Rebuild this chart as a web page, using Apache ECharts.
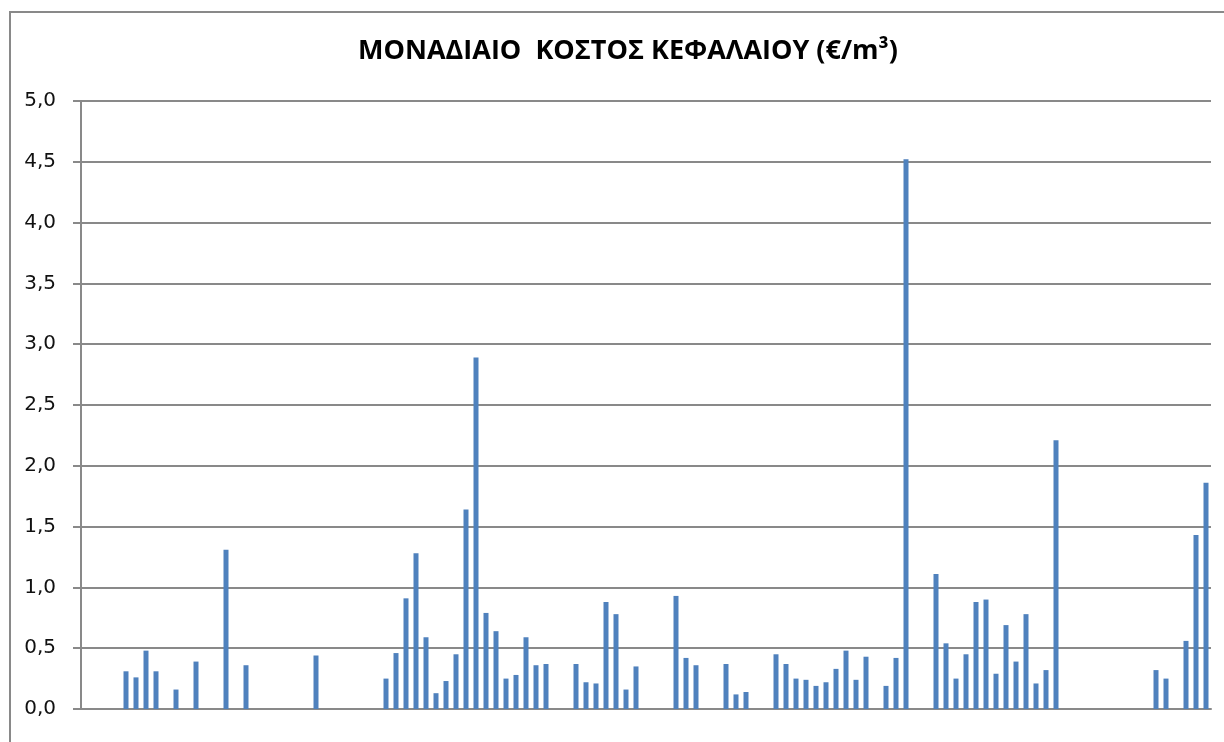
<!DOCTYPE html>
<html>
<head>
<meta charset="utf-8">
<script src="https://cdn.jsdelivr.net/npm/echarts@6/dist/echarts.min.js"></script>
<style>
html,body{margin:0;padding:0;background:#fff;}
#chart{width:1224px;height:742px;}
</style>
</head>
<body>
<div id="chart"></div>
<script>
const titleText = 'ΜΟΝΑΔΙΑΙΟ  ΚΟΣΤΟΣ ΚΕΦΑΛΑΙΟΥ (€/m³)';
const categoryCount = 113;
const categories = Array.from({length: categoryCount}, (_, i) => String(i + 1));
const values = [
  null, null, null, null, 0.31, 0.26, 0.48, 0.31, null, 0.16,
  null, 0.39, null, null, 1.31, null, 0.36, null, null, null,
  null, null, null, 0.44, null, null, null, null, null, null,
  0.25, 0.46, 0.91, 1.28, 0.59, 0.13, 0.23, 0.45, 1.64, 2.89,
  0.79, 0.64, 0.25, 0.28, 0.59, 0.36, 0.37, null, null, 0.37,
  0.22, 0.21, 0.88, 0.78, 0.16, 0.35, null, null, null, 0.93,
  0.42, 0.36, null, null, 0.37, 0.12, 0.14, null, null, 0.45,
  0.37, 0.25, 0.24, 0.19, 0.22, 0.33, 0.48, 0.24, 0.43, null,
  0.19, 0.42, 4.52, null, null, 1.11, 0.54, 0.25, 0.45, 0.88,
  0.90, 0.29, 0.69, 0.39, 0.78, 0.21, 0.32, 2.21, null, null,
  null, null, null, null, null, null, null, 0.32, 0.25, null,
  0.56, 1.43, 1.86
];
const yTicks = { min: 0, max: 5, interval: 0.5 };

const chart = echarts.init(document.getElementById('chart'), null, {renderer: 'canvas'});
const gray = '#898989';
chart.setOption({
  backgroundColor: '#ffffff',
  animation: false,
  title: {
    text: titleText,
    left: 623,
    top: 33,
    textAlign: 'center',
    textStyle: {
      fontFamily: 'Open Sans',
      fontWeight: 'bold',
      fontSize: 27,
      color: '#000000'
    }
  },
  graphic: [{
    type: 'rect',
    shape: {x: 10, y: 12, width: 1400, height: 900},
    style: {fill: 'none', stroke: gray, lineWidth: 2},
    silent: true,
    z: 100
  }],
  grid: {left: 81, right: 13, top: 101, bottom: 33, containLabel: false},
  xAxis: {
    type: 'category',
    data: categories,
    axisLine: {show: true, lineStyle: {color: gray, width: 2}},
    axisTick: {show: false},
    axisLabel: {show: false},
    splitLine: {show: false}
  },
  yAxis: {
    type: 'value',
    min: yTicks.min,
    max: yTicks.max,
    interval: yTicks.interval,
    axisLine: {show: true, lineStyle: {color: gray, width: 2}},
    axisTick: {show: true, length: 8, lineStyle: {color: gray, width: 2}},
    axisLabel: {
      margin: 25,
      fontFamily: 'DejaVu Sans',
      fontSize: 20,
      color: '#111111',
      padding: [3, 0, 0, 0],
      formatter: v => v.toFixed(1).replace('.', ',')
    },
    splitLine: {show: true, lineStyle: {color: gray, width: 2}}
  },
  series: [{
    type: 'bar',
    data: values,
    barWidth: 5,
    itemStyle: {color: '#4F81BD'}
  }]
});
</script>
</body>
</html>
